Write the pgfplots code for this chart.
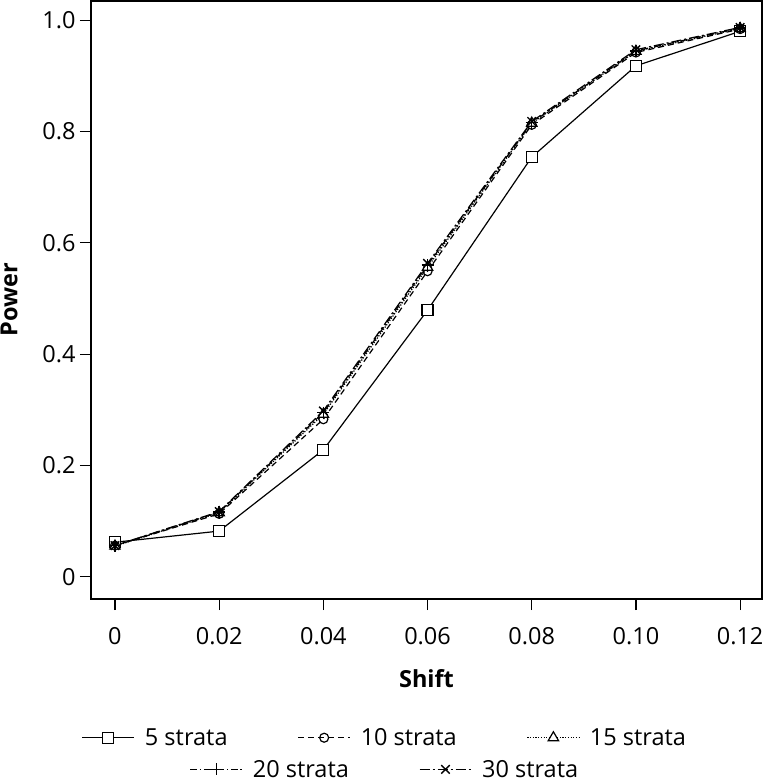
\documentclass[border=0pt]{standalone}
\usepackage{fontspec}
\setmainfont{Open Sans}
\usepackage{pgfplots}
\pgfplotsset{compat=1.18}
\newcommand{\fs}{\fontsize{23.5bp}{27bp}\selectfont}
\pgfplotsset{
  legimg/.style={legend image code/.code={\draw[mark repeat=2,mark phase=2] plot coordinates {(0bp,0bp) (26bp,0bp) (52bp,0bp)};}},
  s5/.style={black, line width=1.2bp, solid, mark=square*, mark size=5.5bp, mark options={solid, fill=white, line width=1.2bp}},
  s10/.style={black, line width=1.2bp, dash pattern=on 6bp off 4bp, mark=o, mark size=4.5bp, mark options={solid, line width=1.2bp}},
  s15/.style={black, line width=1.2bp, dash pattern=on 1.2bp off 1.5bp, mark=triangle*, mark size=6bp, mark options={solid, fill=white, line width=1.2bp}},
  s20/.style={black, line width=1.2bp, dash pattern=on 7bp off 2.5bp on 1.5bp off 2.5bp, mark=+, mark size=6bp, mark options={solid, line width=1.4bp}},
  s30/.style={black, line width=1.2bp, dash pattern=on 10bp off 3bp on 2bp off 3bp, mark=x, mark size=6bp, mark options={solid, line width=1.4bp}},
  legsty/.style={draw=none, fill=none, font=\fs, inner xsep=0pt,
    /tikz/every odd column/.append style={column sep=8bp},
    /tikz/every even column/.append style={column sep=68bp}},
}
\begin{document}
\begin{tikzpicture}
\useasboundingbox (0,0) rectangle (765bp,784bp);
\begin{axis}[
  at={(91bp,185bp)}, anchor=south west,
  width=671bp, height=598bp, scale only axis,
  xmin=-0.0046, xmax=0.1242, ymin=-0.040, ymax=1.0345,
  axis line style={line width=1.2bp},
  tick align=outside, major tick length=11bp,
  tick style={line width=1.2bp, black},
  xtick={0,0.02,0.04,0.06,0.08,0.10,0.12},
  xticklabels={0,0.02,0.04,0.06,0.08,0.10,0.12},
  ytick={0,0.2,0.4,0.6,0.8,1.0},
  yticklabels={0,0.2,0.4,0.6,0.8,1.0},
  xtick pos=bottom, ytick pos=left,
  /pgf/number format/assume math mode=true,
  tick label style={font=\fs},
  xticklabel style={yshift=-14bp},
  yticklabel style={xshift=-1bp},
  label style={font=\fs\bfseries},
  xlabel={Shift}, ylabel={Power},
  xlabel style={yshift=-18bp},
  ylabel style={yshift=18bp},
  legimg,
  legend columns=3,
  legend style={at={(0.438,-0.232)}, anchor=center, legsty},
]
\addplot[s5] coordinates {(0,0.062) (0.02,0.082) (0.04,0.228) (0.06,0.479) (0.08,0.754) (0.10,0.918) (0.12,0.980)};
\addplot[s10] coordinates {(0,0.056) (0.02,0.113) (0.04,0.283) (0.06,0.549) (0.08,0.812) (0.10,0.942) (0.12,0.984)};
\addplot[s15] coordinates {(0,0.055) (0.02,0.115) (0.04,0.292) (0.06,0.556) (0.08,0.815) (0.10,0.944) (0.12,0.985)};
\addplot[s20] coordinates {(0,0.056) (0.02,0.116) (0.04,0.295) (0.06,0.560) (0.08,0.816) (0.10,0.945) (0.12,0.986)};
\addplot[s30] coordinates {(0,0.056) (0.02,0.117) (0.04,0.298) (0.06,0.563) (0.08,0.818) (0.10,0.947) (0.12,0.987)};
\legend{5 strata, 10 strata, 15 strata}
\end{axis}
\begin{axis}[
  at={(91bp,185bp)}, anchor=south west,
  width=671bp, height=598bp, scale only axis,
  xmin=0, xmax=1, ymin=0, ymax=1, hide axis,
  legimg,
  legend columns=2,
  legend style={at={(0.438,-0.285)}, anchor=center, legsty},
]
\addlegendimage{s20}
\addlegendentry{20 strata}
\addlegendimage{s30}
\addlegendentry{30 strata}
\end{axis}
\end{tikzpicture}
\end{document}
